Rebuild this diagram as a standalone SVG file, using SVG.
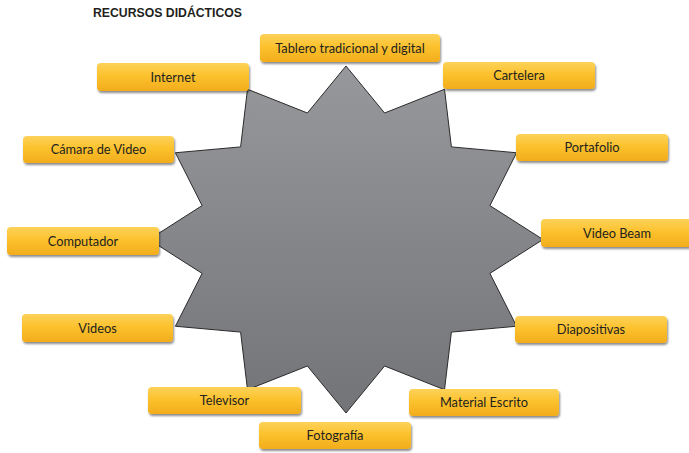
<svg xmlns="http://www.w3.org/2000/svg" width="689" height="453" viewBox="0 0 689 453">
<defs>
<linearGradient id="starGrad" x1="0" y1="0" x2="0" y2="1">
<stop offset="0" stop-color="#97989c"/>
<stop offset="1" stop-color="#737478"/>
</linearGradient>
<linearGradient id="boxGrad" x1="0" y1="0" x2="0" y2="1">
<stop offset="0" stop-color="#fdd25a"/>
<stop offset="0.45" stop-color="#fcc22d"/>
<stop offset="1" stop-color="#f2ac1c"/>
</linearGradient>
<filter id="shadow" x="-10%" y="-20%" width="120%" height="160%">
<feDropShadow dx="1" dy="2" stdDeviation="1.2" flood-color="#000" flood-opacity="0.45"/>
</filter>
</defs>
<style>
.box{fill:url(#boxGrad);filter:url(#shadow);}
.lbl{font-family:Lato,"Open Sans","Liberation Sans",sans-serif;font-size:12.8px;fill:#231f20;text-anchor:middle;}
.title{font-family:"Liberation Sans",Arial,sans-serif;font-size:12.5px;font-weight:bold;fill:#231f20;}
.star{fill:url(#starGrad);stroke:#2b2b2b;stroke-width:1;stroke-linejoin:miter;}
</style>
<rect width="689" height="453" fill="#ffffff"/>
<text class="title" x="93" y="17" textLength="149" lengthAdjust="spacingAndGlyphs">RECURSOS DIDÁCTICOS</text>
<g id="connectors">
<polygon class="star" points="346,66 384.6,113 444.5,89.25 451.4,146.9 516.6,152.75 489.9,205.6 543,239.5 489.9,273.4 516.6,326.25 451.4,332.1 444.5,389.75 384.6,366 346,413 307.4,366 247.5,389.75 240.6,332.1 175.4,326.25 202.1,273.4 149,239.5 202.1,205.6 175.4,152.75 240.6,146.9 247.5,89.25 307.4,113"/>
</g>
<g id="n-tablero"><rect class="box" x="260" y="34" width="180" height="28" rx="4"/><text class="lbl" x="350" y="52.5">Tablero tradicional y digital</text></g>
<g id="n-internet"><rect class="box" x="97" y="63" width="152" height="28" rx="4"/><text class="lbl" x="173" y="81.5">Internet</text></g>
<g id="n-cartelera"><rect class="box" x="443" y="62" width="152" height="27" rx="4"/><text class="lbl" x="519" y="80">Cartelera</text></g>
<g id="n-camara"><rect class="box" x="23" y="136" width="151" height="27" rx="4"/><text class="lbl" x="98.5" y="154">Cámara de Video</text></g>
<g id="n-portafolio"><rect class="box" x="516" y="134" width="152" height="27" rx="4"/><text class="lbl" x="592" y="152">Portafolio</text></g>
<g id="n-computador"><rect class="box" x="7" y="227" width="152" height="28" rx="4"/><text class="lbl" x="83" y="245.5">Computador</text></g>
<g id="n-videobeam"><rect class="box" x="541" y="219" width="152" height="28" rx="4"/><text class="lbl" x="617" y="237.5">Video Beam</text></g>
<g id="n-videos"><rect class="box" x="22" y="314" width="151" height="28" rx="4"/><text class="lbl" x="97.5" y="332.5">Videos</text></g>
<g id="n-diapositivas"><rect class="box" x="515" y="316" width="152" height="27" rx="4"/><text class="lbl" x="591" y="334">Diapositivas</text></g>
<g id="n-televisor"><rect class="box" x="148" y="387" width="153" height="27" rx="4"/><text class="lbl" x="224.5" y="405">Televisor</text></g>
<g id="n-material"><rect class="box" x="409" y="389" width="150" height="27" rx="4"/><text class="lbl" x="484" y="407">Material Escrito</text></g>
<g id="n-fotografia"><rect class="box" x="259" y="422" width="152" height="27" rx="4"/><text class="lbl" x="335" y="440">Fotografía</text></g>
</svg>
